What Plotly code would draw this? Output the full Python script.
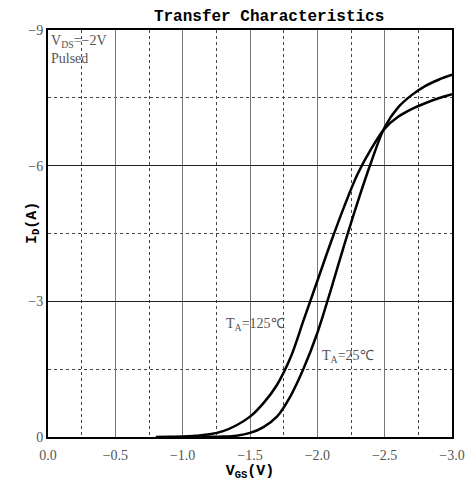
import plotly.graph_objects as go

# 125°C curve
vgs_125 = [-0.8, -0.9, -1.0, -1.1, -1.2, -1.3, -1.4, -1.5, -1.6, -1.7, -1.8, -1.9, -2.0, -2.1, -2.2, -2.3, -2.4, -2.5, -2.6, -2.7, -2.8, -2.9, -3.0]
id_125 = [0.0, -0.005, -0.01, -0.03, -0.06, -0.13, -0.26, -0.45, -0.75, -1.15, -1.75, -2.6, -3.45, -4.3, -5.1, -5.82, -6.37, -6.82, -7.08, -7.25, -7.38, -7.49, -7.58]
# 25°C curve
vgs_25 = [-1.1, -1.2, -1.3, -1.4, -1.5, -1.6, -1.7, -1.8, -1.9, -2.0, -2.1, -2.2, -2.3, -2.4, -2.5, -2.6, -2.7, -2.8, -2.9, -3.0]
id_25 = [0.0, -0.003, -0.01, -0.03, -0.09, -0.22, -0.45, -0.9, -1.53, -2.3, -3.25, -4.25, -5.2, -6.08, -6.85, -7.29, -7.56, -7.76, -7.9, -8.01]

x_ticks = [0.0, -0.5, -1.0, -1.5, -2.0, -2.5, -3.0]
x_tick_text = ["0.0", "−0.5", "−1.0", "−1.5", "−2.0", "−2.5", "−3.0"]
y_ticks = [0, -3, -6, -9]
y_tick_text = ["0", "−3", "−6", "−9"]

fig = go.Figure()
for xs, ys in [(vgs_125, id_125), (vgs_25, id_25)]:
    fig.add_trace(go.Scatter(x=xs, y=ys, mode="lines",
                             line=dict(color="black", width=2.5, shape="spline", smoothing=1.0),
                             showlegend=False, hoverinfo="skip"))

tick_font = dict(family="Liberation Serif", size=14, color="#555555")
fig.update_xaxes(range=[0, -3], tickvals=x_ticks, ticktext=x_tick_text, automargin=False,
                 showgrid=True, gridcolor="#777777", gridwidth=1,
                 minor=dict(dtick=0.25, tick0=0, showgrid=True, griddash="dot", gridcolor="#444444", gridwidth=1),
                 showline=True, linecolor="black", linewidth=2, mirror=True,
                 ticks="", tickfont=tick_font, zeroline=False, ticklabelstandoff=4,
                 title=dict(text="<b>V<sub>GS</sub>(V)</b>", font=dict(family="Liberation Mono", size=15, color="black"), standoff=2))
fig.update_yaxes(range=[0, -9], tickvals=y_ticks, ticktext=y_tick_text, automargin=False,
                 showgrid=True, gridcolor="#222222", gridwidth=1,
                 minor=dict(dtick=1.5, tick0=0, showgrid=True, griddash="dot", gridcolor="#444444", gridwidth=1),
                 showline=True, linecolor="black", linewidth=2, mirror=True,
                 ticks="", tickfont=tick_font, zeroline=False)

ann_font = dict(family="Liberation Serif", size=14, color="#555555")
fig.add_annotation(x=0.0, y=-9, xref="x", yref="y", xanchor="left", yanchor="top", showarrow=False,
                   text="V<sub>DS</sub>=−2V<br>Pulsed", align="left", font=ann_font, xshift=1, yshift=-1)
fig.add_annotation(x=-1.54, y=-2.48, xref="x", yref="y", showarrow=False,
                   text="T<sub>A</sub>=125℃", font=ann_font)
fig.add_annotation(x=-2.23, y=-1.77, xref="x", yref="y", showarrow=False,
                   text="T<sub>A</sub>=25℃", font=ann_font)
fig.add_annotation(x=(22 - 48) / 404, y=(437 - 223) / 407, xref="paper", yref="paper", showarrow=False,
                   text="<b>I<sub>D</sub>(A)</b>", textangle=-90,
                   font=dict(family="Liberation Mono", size=15, color="black"))

fig.update_layout(
    width=468, height=483,
    margin=dict(l=48, r=16, t=30, b=46),
    plot_bgcolor="white", paper_bgcolor="white",
    title=dict(text="<b>Transfer Characteristics</b>", x=0.575, xanchor="center", y=0.969, yanchor="middle",
               font=dict(family="Liberation Mono", size=16, color="black")),
)
fig.write_html("out.html")
